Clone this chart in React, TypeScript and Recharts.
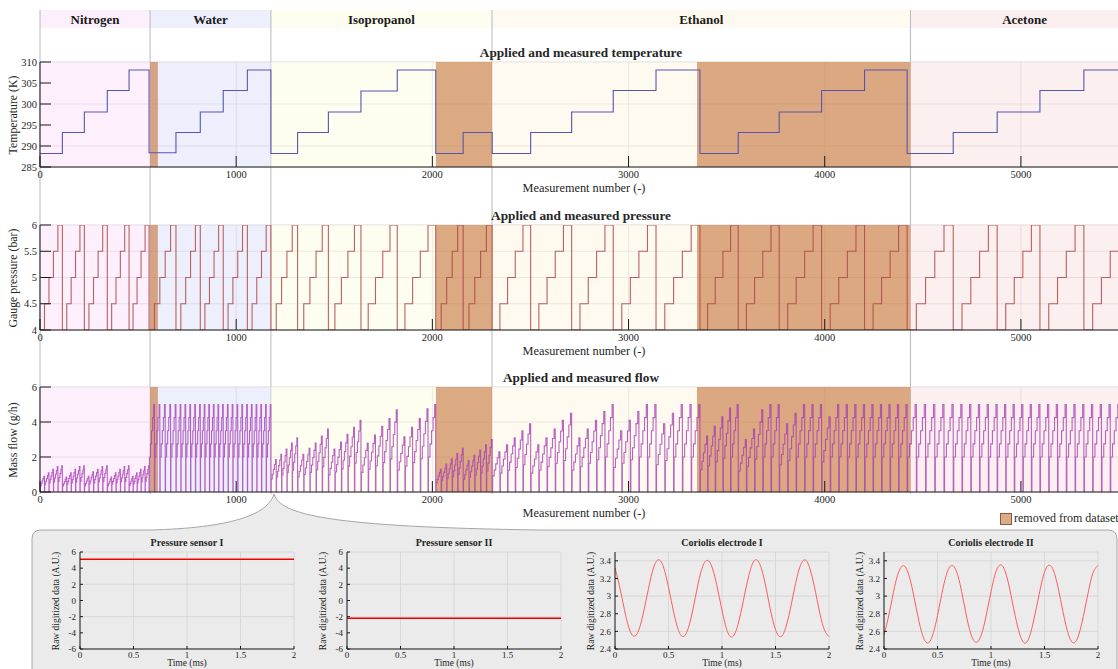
import React from 'react';
import { LineChart, Line, XAxis, YAxis, CartesianGrid, ReferenceArea, ReferenceLine } from 'recharts';

const FONT = "'Liberation Serif', 'DejaVu Serif', serif";
const INK = '#262626';

// fluids and removed ranges (measurement number)
const fluidNames = ['Nitrogen', 'Water', 'Isopropanol', 'Ethanol', 'Acetone'];
const fluidStart = [0, 561, 1177, 2304, 4437];
const fluidEnd = [561, 1177, 2304, 4437, 5600];
const removedStart = [561, 2018, 3349];
const removedEnd = [601, 2304, 4437];

// temperature set points: start of each step and its level (K)
const stepStart = [
  0, 114, 226, 343, 454,
  556, 693, 817, 934, 1057,
  1177, 1313, 1470, 1636, 1821, 2017, 2157,
  2305, 2501, 2710, 2922, 3140, 3364, 3559, 3768, 3984, 4203,
  4420, 4655, 4879, 5097, 5321,
];
const stepTemp = [
  288.2, 293.2, 298.1, 303.2, 308.1,
  288.4, 293.2, 298.1, 303.2, 308.1,
  288.2, 293.2, 298.1, 303.1, 308.1, 288.2, 293.2,
  288.2, 293.2, 298.1, 303.2, 308.1, 288.2, 293.2, 298.1, 303.2, 308.1,
  288.2, 293.2, 298.1, 303.2, 308.1,
];
const seriesEnd = 5545;

// gauge pressure levels applied within every temperature step (bar)
const pressureLevels = [4, 4.5, 5, 5.5, 6];

// peak mass flow of each pressure level, one row per temperature step (g/h)
const flowPeaks = [
  [0.9, 1.1, 1.3, 1.45, 1.5],
  [0.85, 1.1, 1.3, 1.45, 1.5],
  [0.9, 1.15, 1.3, 1.45, 1.5],
  [0.85, 1.1, 1.3, 1.45, 1.5],
  [0.9, 1.1, 1.3, 1.45, 1.5],
  [5, 5, 5, 5, 5],
  [5, 5, 5, 5, 5],
  [5, 5, 5, 5, 5],
  [5, 5, 5, 5, 5],
  [5, 5, 5, 5, 5],
  [1.85, 2.15, 2.45, 2.8, 3.1],
  [2.15, 2.5, 2.8, 3.2, 3.6],
  [2.45, 2.85, 3.3, 3.7, 4.1],
  [2.8, 3.25, 3.75, 4.2, 4.7],
  [3.15, 3.7, 4.2, 4.75, 5.0],
  [1.3, 1.6, 1.9, 2.2, 2.5],
  [1.8, 2.1, 2.4, 2.7, 3.0],
  [2.3, 2.7, 3.1, 3.5, 3.9],
  [2.7, 3.1, 3.6, 4.1, 4.5],
  [3.1, 3.6, 4.1, 4.6, 5.0],
  [3.5, 4.1, 4.6, 5.0, 5.0],
  [3.9, 4.5, 5.0, 5.0, 5.0],
  [3.2, 3.75, 4.3, 4.8, 5.0],
  [3.0, 3.6, 4.7, 5.0, 5.0],
  [3.9, 4.5, 5.0, 5.0, 5.0],
  [4.3, 5.0, 5.0, 5.0, 5.0],
  [5, 5, 5, 5, 5],
  [5, 5, 5, 5, 5],
  [5, 5, 5, 5, 5],
  [5, 5, 5, 5, 5],
  [5, 5, 5, 5, 5],
  [5, 5, 5, 5, 5],
];
// each flow cycle jumps up, climbs in small steps, then drops back to zero
const rampAt = [0, 0.06, 0.26, 0.46, 0.66, 0.86];
const rampLevel = [0, 0.4, 0.55, 0.7, 0.85, 1];

const xTicks = [0, 1000, 2000, 3000, 4000, 5000];
const tempTicks = [285, 290, 295, 300, 305, 310];
const pressureTicks = [4, 4.5, 5, 5.5, 6];
const flowTicks = [0, 2, 4, 6];

// raw sensor snapshot (2 ms window)
const sensorTime = [
  0, 0.05, 0.1, 0.15, 0.2, 0.25, 0.3, 0.35, 0.4, 0.45, 0.5, 0.55, 0.6, 0.65, 0.7, 0.75, 0.8, 0.85, 0.9, 0.95,
  1, 1.05, 1.1, 1.15, 1.2, 1.25, 1.3, 1.35, 1.4, 1.45, 1.5, 1.55, 1.6, 1.65, 1.7, 1.75, 1.8, 1.85, 1.9, 1.95, 2,
];
const coriolisI = [
  3.32, 3.07, 2.78, 2.58, 2.56, 2.73, 3.01, 3.28, 3.41, 3.34, 3.1, 2.81, 2.59, 2.55, 2.7, 2.98, 3.26, 3.4, 3.35, 3.13,
  2.84, 2.6, 2.54, 2.68, 2.95, 3.23, 3.4, 3.37, 3.16, 2.86, 2.62, 2.54, 2.66, 2.92, 3.21, 3.39, 3.38, 3.18, 2.89, 2.64, 2.54,
];
const coriolisII = [
  2.56, 2.81, 3.11, 3.31, 3.33, 3.16, 2.87, 2.6, 2.47, 2.54, 2.78, 3.08, 3.3, 3.34, 3.19, 2.9, 2.62, 2.48, 2.53, 2.75,
  3.05, 3.29, 3.35, 3.21, 2.93, 2.65, 2.48, 2.51, 2.73, 3.02, 3.27, 3.35, 3.23, 2.96, 2.67, 2.49, 2.5, 2.7, 2.99, 3.25, 3.35,
];
const pressureSensorTime = [0, 2];
const pressureSensorI = [5.1, 5.1];
const pressureSensorII = [-2.2, -2.2];
const sensorXTicks = [0, 0.5, 1, 1.5, 2];
const sensorPressureTicks = [-6, -4, -2, 0, 2, 4, 6];
const coriolisTicks = [2.4, 2.6, 2.8, 3, 3.2, 3.4];

// ---- tables for the library ----
const stepEnd = (i: number) => (i < stepStart.length - 1 ? stepStart[i + 1] : seriesEnd);

const tempData = stepStart
  .map((x, i) => ({ x, y: stepTemp[i] }))
  .concat([{ x: seriesEnd, y: stepTemp[stepTemp.length - 1] }]);

const pressureData: { x: number; y: number }[] = [];
stepStart.forEach((s, i) => {
  const w = (stepEnd(i) - s) / pressureLevels.length;
  pressureLevels.forEach((p, k) => pressureData.push({ x: s + k * w, y: p }));
});
pressureData.push({ x: seriesEnd, y: 6 });

const flowData: { x: number; y: number }[] = [];
stepStart.forEach((s, i) => {
  const w = (stepEnd(i) - s) / flowPeaks[i].length;
  flowPeaks[i].forEach((peak, k) => {
    rampAt.forEach((f, j) => flowData.push({ x: s + (k + f) * w, y: peak * rampLevel[j] }));
  });
});
flowData.push({ x: seriesEnd, y: 0 });

const zipSensor = (t: number[], v: number[]) => t.map((tt, i) => ({ t: tt, v: v[i] }));

// ---- layout ----
const fluidFill = ['#fbe1f9', '#dbe1f9', '#fbfbe1', '#fdf5df', '#f9dfdf'];
const REMOVED = '#c57139';
const PLOT_LEFT = 40;
const PLOT_H = 105;
const CHART_W = 1139;
const FRAME_H = 484;

const Txt = ({ x, y, size = 11, bold = false, rotate = false, children }: any) => (
  <div
    style={{
      position: 'absolute',
      left: x,
      top: y,
      transform: `translate(-50%, -50%)${rotate ? ' rotate(-90deg)' : ''}`,
      whiteSpace: 'nowrap',
      fontFamily: FONT,
      fontSize: size,
      fontWeight: bold ? 700 : 400,
      color: INK,
      lineHeight: 1,
    }}
  >
    {children}
  </div>
);

const axisStroke = { stroke: '#1a1a1a', strokeWidth: 1 };

const MainChart = ({ top, data, domain, ticks, title, yLabel, color, opacity = 1 }: any) => (
  <>
    <div style={{ position: 'absolute', left: 0, top: top - 10, width: CHART_W, height: PLOT_H + 40 }}>
      <LineChart width={CHART_W} height={PLOT_H + 40} data={data} margin={{ top: 10, right: 20, bottom: 0, left: 0 }}>
        <CartesianGrid stroke="#cfcfcf" strokeWidth={0.8} />
        {fluidStart.map((s, i) => (
          <ReferenceArea key={'f' + i} x1={s} x2={fluidEnd[i]} fill={fluidFill[i]} fillOpacity={0.5} stroke="none" ifOverflow="hidden" />
        ))}
        {removedStart.map((s, i) => (
          <ReferenceArea key={'r' + i} x1={s} x2={removedEnd[i]} fill={REMOVED} fillOpacity={0.6} stroke="none" ifOverflow="hidden" />
        ))}
        <XAxis
          dataKey="x"
          type="number"
          domain={[0, 5500]}
          ticks={xTicks}
          allowDataOverflow
          height={30}
          tickSize={-11}
          tickMargin={15}
          axisLine={axisStroke}
          tickLine={axisStroke}
          tick={{ fontSize: 10.5, fill: INK, fontFamily: FONT }}
        />
        <XAxis
          xAxisId="top"
          orientation="top"
          dataKey="x"
          type="number"
          domain={[0, 5500]}
          ticks={xTicks}
          allowDataOverflow
          height={0}
          tickSize={-11}
          axisLine={axisStroke}
          tickLine={axisStroke}
          tick={false}
        />
        <YAxis
          type="number"
          domain={domain}
          ticks={ticks}
          allowDataOverflow
          width={40}
          tickSize={-11}
          tickMargin={14}
          axisLine={axisStroke}
          tickLine={axisStroke}
          tick={{ fontSize: 10.5, fill: INK, fontFamily: FONT }}
        />
        <Line
          type="stepAfter"
          dataKey="y"
          stroke={color}
          strokeOpacity={opacity}
          strokeWidth={1.1}
          dot={false}
          isAnimationActive={false}
        />
      </LineChart>
    </div>
    <Txt x={581} y={top - 9} size={13.3} bold>{title}</Txt>
    <Txt x={584} y={top + PLOT_H + 21} size={12.3}>Measurement number (-)</Txt>
    <Txt x={14} y={top + PLOT_H / 2} size={11.8} rotate>{yLabel}</Txt>
  </>
);

const SENSOR_TOP = 552;
const SENSOR_W = 214;
const SENSOR_H = 97;

const SensorChart = ({ left, title, data, domain, ticks }: any) => (
  <>
    <div style={{ position: 'absolute', left: left - 45, top: SENSOR_TOP - 6, width: SENSOR_W + 51, height: SENSOR_H + 26 }}>
      <LineChart width={SENSOR_W + 51} height={SENSOR_H + 26} data={data} margin={{ top: 6, right: 6, bottom: 0, left: 0 }}>
        <CartesianGrid stroke="#d3d3d3" strokeWidth={0.8} />
        <XAxis
          dataKey="t"
          type="number"
          domain={[0, 2]}
          ticks={sensorXTicks}
          height={20}
          tickSize={-3}
          tickMargin={6}
          axisLine={axisStroke}
          tickLine={axisStroke}
          tick={{ fontSize: 9, fill: INK, fontFamily: FONT }}
        />
        <XAxis
          xAxisId="top"
          orientation="top"
          dataKey="t"
          type="number"
          domain={[0, 2]}
          ticks={sensorXTicks}
          height={0}
          tickSize={-3}
          axisLine={axisStroke}
          tickLine={axisStroke}
          tick={false}
        />
        <YAxis
          type="number"
          domain={domain}
          ticks={ticks}
          allowDataOverflow
          width={45}
          tickSize={-3}
          tickMargin={7}
          axisLine={axisStroke}
          tickLine={axisStroke}
          tick={{ fontSize: 9, fill: INK, fontFamily: FONT }}
        />
        <YAxis
          yAxisId="r"
          orientation="right"
          type="number"
          domain={domain}
          ticks={ticks}
          width={0}
          tickSize={-3}
          axisLine={axisStroke}
          tickLine={axisStroke}
          tick={false}
        />
        <Line
          type="natural"
          dataKey="v"
          stroke={data.length > 2 ? '#ff5c5c' : '#f00000'}
          strokeWidth={data.length > 2 ? 1 : 1.6}
          dot={false}
          isAnimationActive={false}
        />
      </LineChart>
    </div>
    <Txt x={left + SENSOR_W / 2} y={SENSOR_TOP - 9} size={10} bold>{title}</Txt>
    <Txt x={left + SENSOR_W / 2} y={SENSOR_TOP + SENSOR_H + 15} size={9.5}>Time (ms)</Txt>
    <Txt x={left - 23} y={SENSOR_TOP + SENSOR_H / 2} size={9.5} rotate>Raw digitized data (A.U.)</Txt>
  </>
);

export default function App() {
  return (
    <div style={{ position: 'absolute', left: 0, top: 0, width: 1118, height: 669, overflow: 'hidden', background: '#fff' }}>
      {/* fluid band and boundaries behind everything */}
      <div style={{ position: 'absolute', left: 0, top: 10, width: CHART_W, height: FRAME_H }}>
        <LineChart width={CHART_W} height={FRAME_H} data={tempData} margin={{ top: 0, right: 20, bottom: 0, left: PLOT_LEFT }}>
          <XAxis dataKey="x" type="number" domain={[0, 5500]} hide allowDataOverflow />
          <YAxis type="number" domain={[0, FRAME_H]} hide allowDataOverflow />
          {fluidStart.map((s, i) => (
            <ReferenceArea
              key={'b' + i}
              x1={s}
              x2={fluidEnd[i]}
              y1={FRAME_H - 18}
              y2={FRAME_H}
              fill={fluidFill[i]}
              fillOpacity={0.5}
              stroke="none"
              ifOverflow="hidden"
              label={{ value: fluidNames[i], position: 'center', fill: '#1a1a1a', fontSize: 13, fontWeight: 700, fontFamily: FONT }}
            />
          ))}
          {fluidStart.map((s, i) => (
            <ReferenceLine key={'l' + i} x={s} stroke="#b8b8b8" strokeWidth={1} ifOverflow="extendDomain" />
          ))}
          <Line dataKey="y" stroke="none" dot={false} isAnimationActive={false} />
        </LineChart>
      </div>

      <MainChart top={62} data={tempData} domain={[285, 310]} ticks={tempTicks} title="Applied and measured temperature" yLabel="Temperature (K)" color="#5656b2" />
      <MainChart top={225} data={pressureData} domain={[4, 6]} ticks={pressureTicks} title="Applied and measured pressure" yLabel="Gauge pressure (bar)" color="#b04646" opacity={0.85} />
      <MainChart top={387} data={flowData} domain={[0, 6]} ticks={flowTicks} title="Applied and measured flow" yLabel="Mass flow (g/h)" color="#a83cb6" opacity={0.8} />

      {/* legend */}
      <div style={{ position: 'absolute', left: 1000, top: 513, width: 10, height: 10, background: '#dcab88', border: '1px solid #8a5a3a' }} />
      <div style={{ position: 'absolute', left: 1014, top: 511, fontFamily: FONT, fontSize: 12, color: INK, whiteSpace: 'nowrap', lineHeight: '14px' }}>
        removed from dataset
      </div>

      {/* zoom panel */}
      <svg style={{ position: 'absolute', left: 0, top: 0 }} width={1118} height={669}>
        <path
          d="M 32 680 L 32 539 Q 32 530 41 530 L 150 530 C 230 528 268 515 274 494 C 280 515 330 527 540 530 L 1108 530 Q 1117 530 1117 539 L 1117 680 Z"
          fill="#ebebeb"
          stroke="#a6a6a6"
          strokeWidth={1}
        />
      </svg>

      <SensorChart left={80} title="Pressure sensor I" data={zipSensor(pressureSensorTime, pressureSensorI)} domain={[-6, 6]} ticks={sensorPressureTicks} />
      <SensorChart left={347} title="Pressure sensor II" data={zipSensor(pressureSensorTime, pressureSensorII)} domain={[-6, 6]} ticks={sensorPressureTicks} />
      <SensorChart left={615} title="Coriolis electrode I" data={zipSensor(sensorTime, coriolisI)} domain={[2.4, 3.5]} ticks={coriolisTicks} />
      <SensorChart left={884} title="Coriolis electrode II" data={zipSensor(sensorTime, coriolisII)} domain={[2.4, 3.5]} ticks={coriolisTicks} />
    </div>
  );
}
